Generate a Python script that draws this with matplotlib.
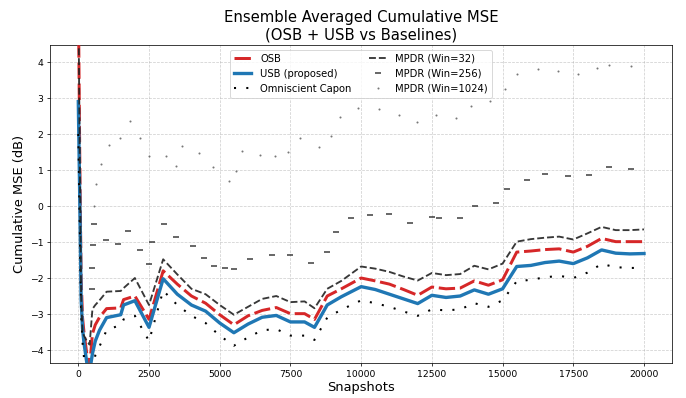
import matplotlib
matplotlib.use("Agg")
import matplotlib.pyplot as plt

# ---- data ----
snapshots = [0, 50, 100, 150, 200, 300, 400, 500, 600, 750, 1000, 1500, 1600, 2000,
             2500, 3000, 3500, 4000, 4500, 5000, 5500, 6000, 6500, 7000, 7500, 8000,
             8350, 8800, 9300, 10000, 10500, 11000, 11500, 12000, 12500, 13000, 13500,
             14000, 14500, 15000, 15500, 16000, 16500, 17000, 17500, 18000, 18500,
             19000, 19500, 20000]

usb = [2.9, 0.3, -2.6, -3.4, -3.8, -4.35, -4.6, -4.1, -3.75, -3.45, -3.1, -3.02, -2.75, -2.63,
       -3.37, -2.02, -2.45, -2.75, -2.92, -3.25, -3.52, -3.28, -3.09, -3.04, -3.22, -3.22,
       -3.37, -2.75, -2.52, -2.24, -2.32, -2.45, -2.58, -2.71, -2.48, -2.54, -2.50,
       -2.33, -2.45, -2.30, -1.68, -1.65, -1.57, -1.53, -1.60, -1.44, -1.22,
       -1.31, -1.33, -1.32]

osb = [6.0, 1.5, -2.0, -3.1, -3.5, -4.1, -4.45, -3.55, -3.3, -3.09, -2.85, -2.83, -2.6, -2.5,
       -3.15, -1.80, -2.17, -2.50, -2.70, -3.02, -3.30, -3.05, -2.90, -2.82, -2.99, -2.99,
       -3.15, -2.50, -2.30, -2.00, -2.08, -2.17, -2.32, -2.48, -2.25, -2.30, -2.28,
       -2.08, -2.20, -2.05, -1.28, -1.25, -1.21, -1.19, -1.28, -1.12, -0.90,
       -0.99, -0.99, -0.99]

capon = [2.0, -0.5, -3.0, -3.8, -4.2, -4.7, -5.0, -4.6, -4.15, -3.9, -3.45, -3.3, -3.15, -3.05,
         -3.75, -2.35, -2.75, -3.05, -3.25, -3.60, -3.88, -3.65, -3.45, -3.42, -3.60, -3.60,
         -3.72, -3.10, -2.88, -2.62, -2.70, -2.80, -2.93, -3.05, -2.87, -2.90, -2.87,
         -2.70, -2.80, -2.62, -2.09, -2.05, -1.98, -1.94, -2.00, -1.85, -1.61,
         -1.70, -1.72, -1.72]

mpdr32 = [6.0, 1.5, -2.5, -3.5, -3.6, -3.75, -3.85, -2.86, -2.75, -2.62, -2.38, -2.36, -2.28, -2.0,
          -2.75, -1.48, -1.90, -2.30, -2.45, -2.75, -3.02, -2.80, -2.58, -2.50, -2.67, -2.65,
          -2.84, -2.30, -2.08, -1.68, -1.74, -1.83, -1.96, -2.07, -1.86, -1.92, -1.89,
          -1.66, -1.76, -1.60, -0.99, -0.92, -0.88, -0.85, -0.93, -0.76, -0.58,
          -0.67, -0.67, -0.65]

snap256 = [490, 500, 520, 560, 985, 1420, 1740, 2170, 2500, 2620, 3030, 3450, 4050, 4450,
           4800, 5200, 5500, 6080, 6850, 7480, 8220, 8800, 9110, 9650, 10330, 11000, 11720,
           12490, 12740, 13500, 14030, 14750, 15160, 15870, 16490, 17300, 18040, 18750, 19525]
mpdr256 = [-2.3, -1.72, -1.08, -0.5, -0.95, -1.06, -0.70, -1.22, -1.60, -0.99, -0.49, -0.86,
           -1.10, -1.45, -1.68, -1.73, -1.74, -1.48, -1.35, -1.36, -1.57, -1.27, -0.73, -0.34,
           -0.25, -0.22, -0.46, -0.31, -0.34, -0.34, 0.0, 0.07, 0.48, 0.73, 0.90, 0.83, 0.87,
           1.09, 1.04]

snap1024 = [560, 630, 806, 1068, 1460, 1815, 2170, 2500, 3085, 3440, 3680, 4250, 4760, 5310,
            5560, 5790, 6420, 6940, 7430, 7840, 8500, 8930, 9240, 9890, 10640, 11340, 11990,
            12630, 13360, 13870, 14540, 15070, 15520, 16240, 16970, 17680, 18330, 18750, 19525]
mpdr1024 = [0.0, 0.62, 1.18, 1.69, 1.90, 2.37, 1.90, 1.39, 1.39, 1.11, 1.67, 1.48, 1.09, 0.69,
            0.98, 1.52, 1.43, 1.39, 1.49, 1.88, 1.65, 1.95, 2.47, 2.71, 2.69, 2.52, 2.33,
            2.53, 2.45, 2.79, 2.91, 3.26, 3.68, 3.81, 3.76, 3.66, 3.84, 3.91, 3.89]

x_ticks = [0, 2500, 5000, 7500, 10000, 12500, 15000, 17500, 20000]
y_ticks = [-4, -3, -2, -1, 0, 1, 2, 3, 4]

# ---- figure ----
DPI = 67
fig = plt.figure(figsize=(686.3 / DPI, 398.3 / DPI), dpi=DPI)
ax = fig.add_axes([50 / 686, 1 - 363 / 398, 622 / 686, 318 / 398])

ax.plot(snapshots, osb, color='#d62728', lw=3.2, linestyle=(0, (5.5, 1.6)), label='OSB', zorder=3)
ax.plot(snapshots, usb, color='#1f77b4', lw=3.6, label='USB (proposed)', zorder=3)
ax.plot(snapshots, capon, color='black', lw=2.2, linestyle=(0, (1, 5)),
        label='Omniscient Capon', zorder=3)
ax.plot(snapshots, mpdr32, color='#222222', lw=2.0, linestyle='--', alpha=0.9,
        label='MPDR (Win=32)', zorder=4)
ax.plot(snap256, mpdr256, color='#222222', linestyle='none', marker='_', ms=5.5, mew=1.7,
        alpha=0.85, label='MPDR (Win=256)', zorder=4)
ax.plot(snap1024, mpdr1024, color='#555555', linestyle='none', marker='o', ms=2.2, mew=0,
        alpha=0.8, label='MPDR (Win=1024)', zorder=4)

ax.set_xlim(-1000, 21000)
ax.set_ylim(-4.36, 4.48)
ax.set_xticks(x_ticks)
ax.set_yticks(y_ticks)
ax.tick_params(labelsize=10)
ax.grid(True, linestyle='--', alpha=0.6)
ax.set_xlabel('Snapshots', fontsize=14, labelpad=2)
ax.set_ylabel('Cumulative MSE (dB)', fontsize=14)
ax.set_title('Ensemble Averaged Cumulative MSE\n(OSB + USB vs Baselines)', fontsize=16)
ax.legend(loc='upper center', ncol=2, fontsize=10.7, handlelength=1.7, columnspacing=1.8,
          handletextpad=0.9)

fig.savefig('out.png', dpi=DPI)
